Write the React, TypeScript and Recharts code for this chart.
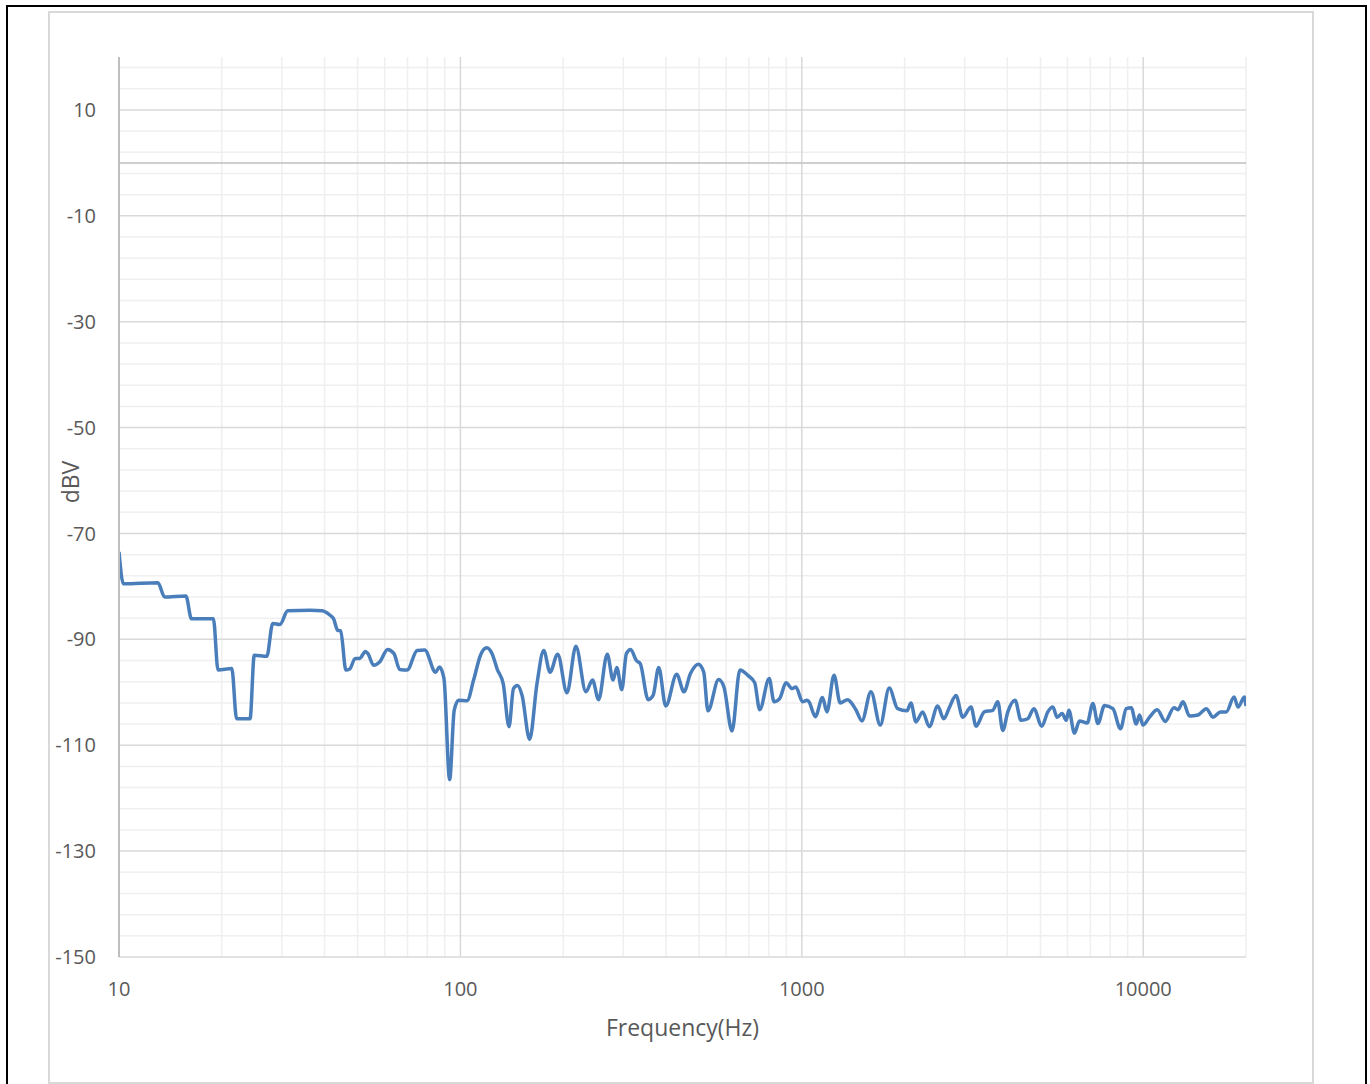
import React from "react";
import { LineChart, Line, XAxis, YAxis, ReferenceLine, Label } from "recharts";

// frequency response samples (Hz, dBV)
const freqHz = [
    10, 10.3, 13.0, 13.6, 15.7, 16.3, 18.9, 19.5, 21.4, 22.1, 24.2, 24.9, 27.1, 28.2, 29.6,
    31.2, 36.3, 39.3, 41.6, 42.5, 43.7, 44.6, 46.2, 47.4, 49.2, 50.7, 52.7, 53.6, 55.7, 58.0,
    61.2, 63.9, 66.4, 69.8, 74.7, 78.6, 84.6, 86.8, 89.5, 93.0, 95.9, 98.8, 104.6, 109.3,
    114.5, 119.4, 123.8, 128.3, 133.5, 138.8, 143.0, 147.0, 151.6, 159.5, 167.6, 175.4,
    183.0, 192.7, 205.2, 217.9, 233.1, 243.8, 253.9, 269.2, 280.1, 287.1, 296.9, 306.3,
    315.2, 327.7, 336.3, 354.9, 366.8, 381.0, 399.5, 430.0, 451.8, 471.6, 497.7, 516.0,
    531.0, 570.5, 591.4, 624.5, 658.7, 694.7, 727.8, 752.6, 802.5, 829.3, 860.8, 899.0,
    936.8, 960.9, 1005, 1035, 1050, 1095, 1150, 1184, 1243, 1295, 1362, 1440, 1500, 1594,
    1697, 1803, 1909, 2032, 2087, 2159, 2259, 2363, 2500, 2604, 2704, 2829, 2960, 3131,
    3238, 3424, 3624, 3749, 3878, 4012, 4214, 4387, 4590, 4781, 5047, 5255, 5436, 5596,
    5789, 5947, 6056, 6290, 6506, 6853, 7121, 7366, 7701, 8150, 8580, 8916, 9222, 9539,
    9754, 9980, 10435, 10992, 11600, 12303, 12641, 13075, 13670, 14470, 15300, 16010,
    16850, 17510, 18450, 18960, 19780, 20000,
];

const levelDbv = [
    -73.5, -79.5, -79.3, -82.0, -81.8, -86.1, -86.1, -95.8, -95.5, -105.0, -105.0, -93.0, -93.2, -87.0, -87.2,
    -84.6, -84.5, -84.6, -85.5, -86.1, -88.3, -88.4, -95.8, -95.6, -93.6, -93.6, -92.3, -92.7, -94.9, -94.3,
    -91.9, -92.7, -95.7, -95.8, -92.1, -92.0, -96.2, -95.2, -97.4, -116.5, -103.4, -101.5, -101.6, -97.7,
    -93.0, -91.6, -92.7, -95.7, -98.4, -106.5, -99.3, -98.7, -100.6, -108.9, -98.4, -92.1,
    -96.2, -92.8, -100.1, -91.3, -99.9, -97.7, -101.4, -92.8, -97.7, -95.3, -99.5, -92.7,
    -91.9, -94.0, -94.6, -101.4, -100.6, -95.3, -102.6, -96.6, -99.9, -96.5, -94.7, -96.2,
    -103.5, -97.6, -99.0, -107.3, -95.8, -96.8, -98.2, -103.3, -97.4, -101.8, -101.2, -98.2,
    -99.3, -99.0, -101.8, -101.5, -101.8, -104.6, -101.0, -103.7, -96.8, -102.0, -101.4, -103.3, -105.4, -99.9,
    -106.2, -99.2, -103.1, -103.5, -102.0, -105.6, -103.7, -106.5, -102.6, -105.0, -102.9, -100.6, -104.7, -102.8,
    -106.4, -103.7, -103.4, -101.8, -107.2, -103.7, -101.5, -105.3, -105.0, -103.1, -106.4, -103.7, -102.8, -104.7,
    -104.0, -105.3, -103.4, -107.7, -105.4, -105.8, -102.1, -105.9, -102.5, -103.1, -106.9, -103.1, -102.9, -106.0,
    -104.3, -106.2, -104.7, -103.3, -105.5, -102.9, -103.3, -101.8, -104.5, -104.3, -103.1, -104.7,
    -103.7, -103.7, -100.9, -102.8, -100.9, -102.6,
];

const xTicks = [10, 100, 1000, 10000];
const yTicks = [-150, -130, -110, -90, -70, -50, -30, -10, 10];
const xMajorGrid = [100, 1000, 10000];
const xMinorGrid = [
    20, 30, 40, 50, 60, 70, 80, 90,
    200, 300, 400, 500, 600, 700, 800, 900,
    2000, 3000, 4000, 5000, 6000, 7000, 8000, 9000,
    20000,
];

// minor horizontal lines every 4 dB, skipping the labelled ones
const yMinorGrid: number[] = [];
for (let v = -146; v <= 18; v += 4) {
    if ((v + 150) % 20 !== 0) yMinorGrid.push(v);
}

const data = freqHz.map((f, i) => ({ f, v: levelDbv[i] }));

const FONT = "'Open Sans', 'Liberation Sans', sans-serif";
const TEXT = "#595959";

export default function App() {
    return (
        <div style={{ position: "absolute", left: 0, top: 0, width: 1370, height: 1084, overflow: "hidden", background: "#fff" }}>
            {/* outer black frame */}
            <div style={{ position: "absolute", left: 6, top: 5, width: 1357, height: 1100, border: "2px solid #000" }} />
            {/* chart area border */}
            <div style={{ position: "absolute", left: 48, top: 11, width: 1262, height: 1069, border: "2px solid #d9d9d9" }} />

            <div style={{ position: "absolute", left: 0, top: 0 }}>
                <LineChart width={1370} height={1084} data={data} margin={{ top: 57, right: 124, bottom: 67, left: 59 }}>
                    {yMinorGrid.map(v => (
                        <ReferenceLine key={`ym${v}`} y={v} stroke="#efefef" strokeWidth={1.5} />
                    ))}
                    {xMinorGrid.map(v => (
                        <ReferenceLine key={`xm${v}`} x={v} stroke="#efefef" strokeWidth={1.5} />
                    ))}
                    {yTicks.map(v => (
                        <ReferenceLine key={`yM${v}`} y={v} stroke="#d9d9d9" strokeWidth={1.5} />
                    ))}
                    {xMajorGrid.map(v => (
                        <ReferenceLine key={`xM${v}`} x={v} stroke="#d9d9d9" strokeWidth={1.5} />
                    ))}
                    <ReferenceLine y={0} stroke="#bfbfbf" strokeWidth={1.5} />

                    <XAxis
                        dataKey="f"
                        type="number"
                        scale="log"
                        domain={[10, 20000]}
                        ticks={xTicks}
                        allowDataOverflow
                        axisLine={false}
                        tickLine={false}
                        tickSize={0}
                        tickMargin={25}
                        height={60}
                        tick={{ fill: TEXT, fontSize: 20, fontFamily: FONT }}
                    >
                        <Label value="Frequency(Hz)" position="bottom" offset={3} fill={TEXT} fontSize={23} fontFamily={FONT} />
                    </XAxis>
                    <YAxis
                        type="number"
                        domain={[-150, 20]}
                        ticks={yTicks}
                        allowDataOverflow
                        axisLine={{ stroke: "#bfbfbf", strokeWidth: 2 }}
                        tickLine={false}
                        tickSize={0}
                        tickMargin={23}
                        width={60}
                        tick={{ fill: TEXT, fontSize: 20, fontFamily: FONT }}
                    />

                    <Line
                        type="monotone"
                        dataKey="v"
                        stroke="#4a7ebb"
                        strokeWidth={3.5}
                        strokeLinejoin="round"
                        dot={false}
                        activeDot={false}
                        isAnimationActive={false}
                    />
                </LineChart>
            </div>

            {/* vertical axis title */}
            <svg width={1370} height={1084} style={{ position: "absolute", left: 0, top: 0, pointerEvents: "none" }}>
                <text
                    x={70}
                    y={482}
                    transform="rotate(-90 70 482)"
                    textAnchor="middle"
                    dominantBaseline="central"
                    fill={TEXT}
                    fontSize={23}
                    fontFamily={FONT}
                >
                    dBV
                </text>
            </svg>
        </div>
    );
}
